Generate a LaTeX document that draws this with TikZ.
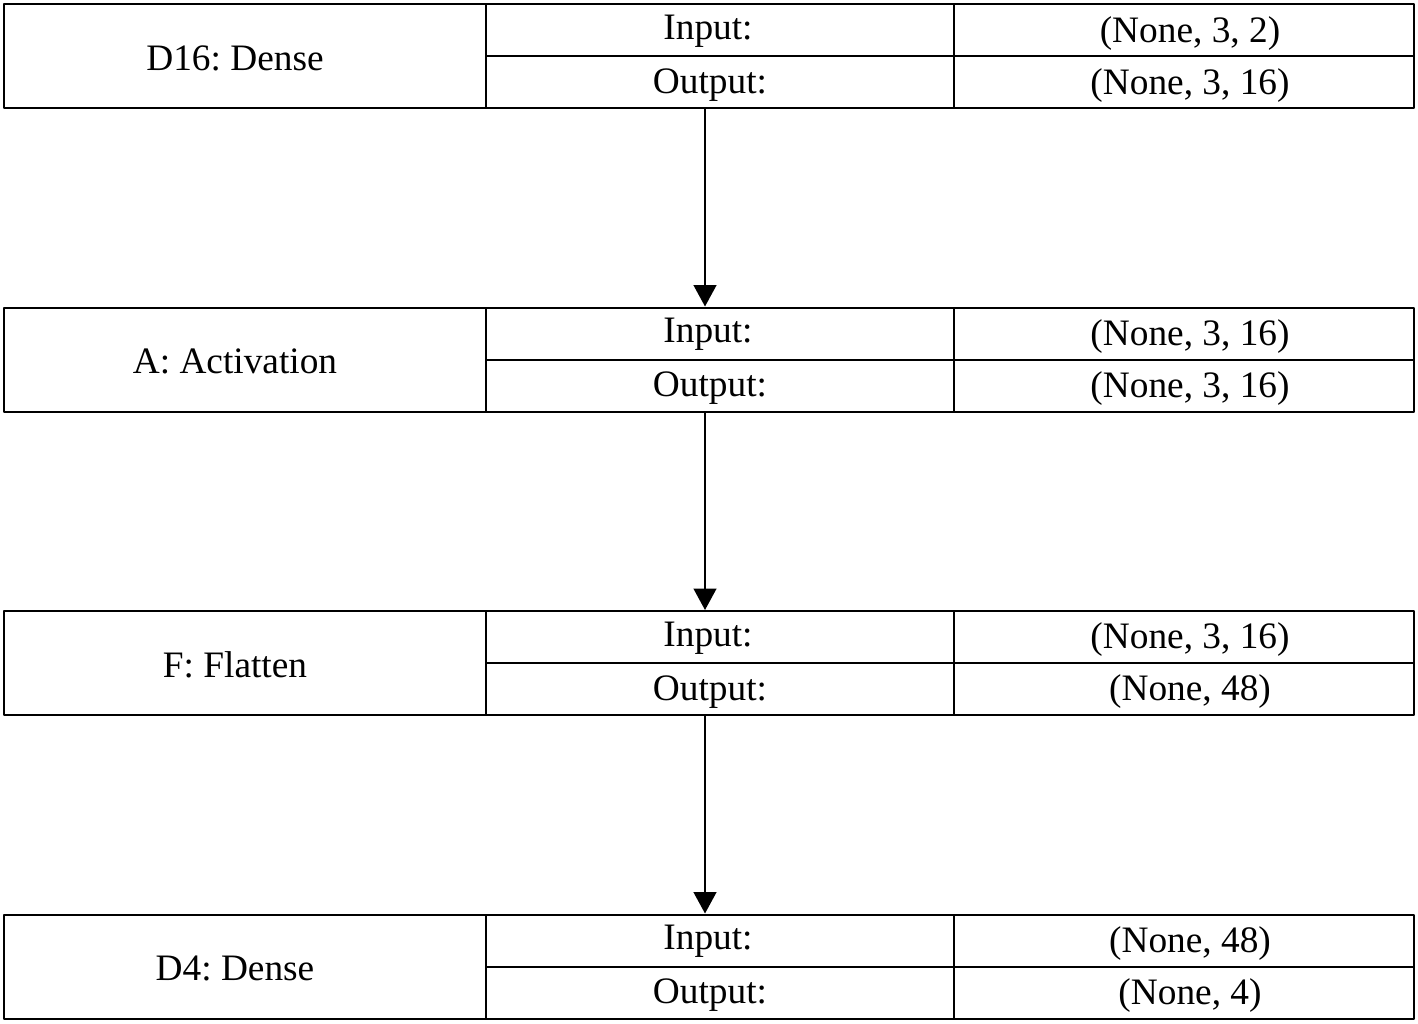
\documentclass[tikz,border=0pt]{standalone}
\usepackage{fontspec}
\setmainfont{Liberation Serif}
\usetikzlibrary{arrows.meta}
\frenchspacing
\begin{document}
\begin{tikzpicture}[x=0.75pt,y=-0.75pt,line join=round,>={Triangle[width=17pt,length=16pt]}]
	\tikzset{layerbox/.style={draw,line width=1.5pt,minimum width=1057.5pt,minimum height=78pt,inner sep=0pt},
		cell/.style={font=\fontsize{28}{30}\selectfont,inner sep=0pt}}
	\useasboundingbox (0,0) rectangle (1418,1024);
	\foreach \n/\y/\lname/\inp/\outp in {d16/56.5/{D16: Dense}/{(None, 3, 2)}/{(None, 3, 16)},
		act/359.5/{A: Activation}/{(None, 3, 16)}/{(None, 3, 16)},
		flat/663/{F: Flatten}/{(None, 3, 16)}/{(None, 48)},
		d4/966.5/{D4: Dense}/{(None, 48)}/{(None, 4)}}{
		\node[layerbox] (\n) at (709,\y) {};
		\draw[line width=1.5pt] (486,\y-52) -- (486,\y+52) (954,\y-52) -- (954,\y+52) (486,\y) -- (1414,\y);
		\node[cell] (\n-name) at (235,\y+2) {\lname};
		\node[cell] (\n-in) at (708,\y-25) {Input:};
		\node[cell] (\n-out) at (710,\y+29) {Output:};
		\node[cell] (\n-inv) at (1190,\y-23) {\inp};
		\node[cell] (\n-outv) at (1190,\y+29) {\outp};
	}
	\draw[->,line width=1.5pt] ([xshift=-3pt]d16.south) -- ([xshift=-3pt]act.north);
	\draw[->,line width=1.5pt] ([xshift=-3pt]act.south) -- ([xshift=-3pt]flat.north);
	\draw[->,line width=1.5pt] ([xshift=-3pt]flat.south) -- ([xshift=-3pt]d4.north);
\end{tikzpicture}
\end{document}
